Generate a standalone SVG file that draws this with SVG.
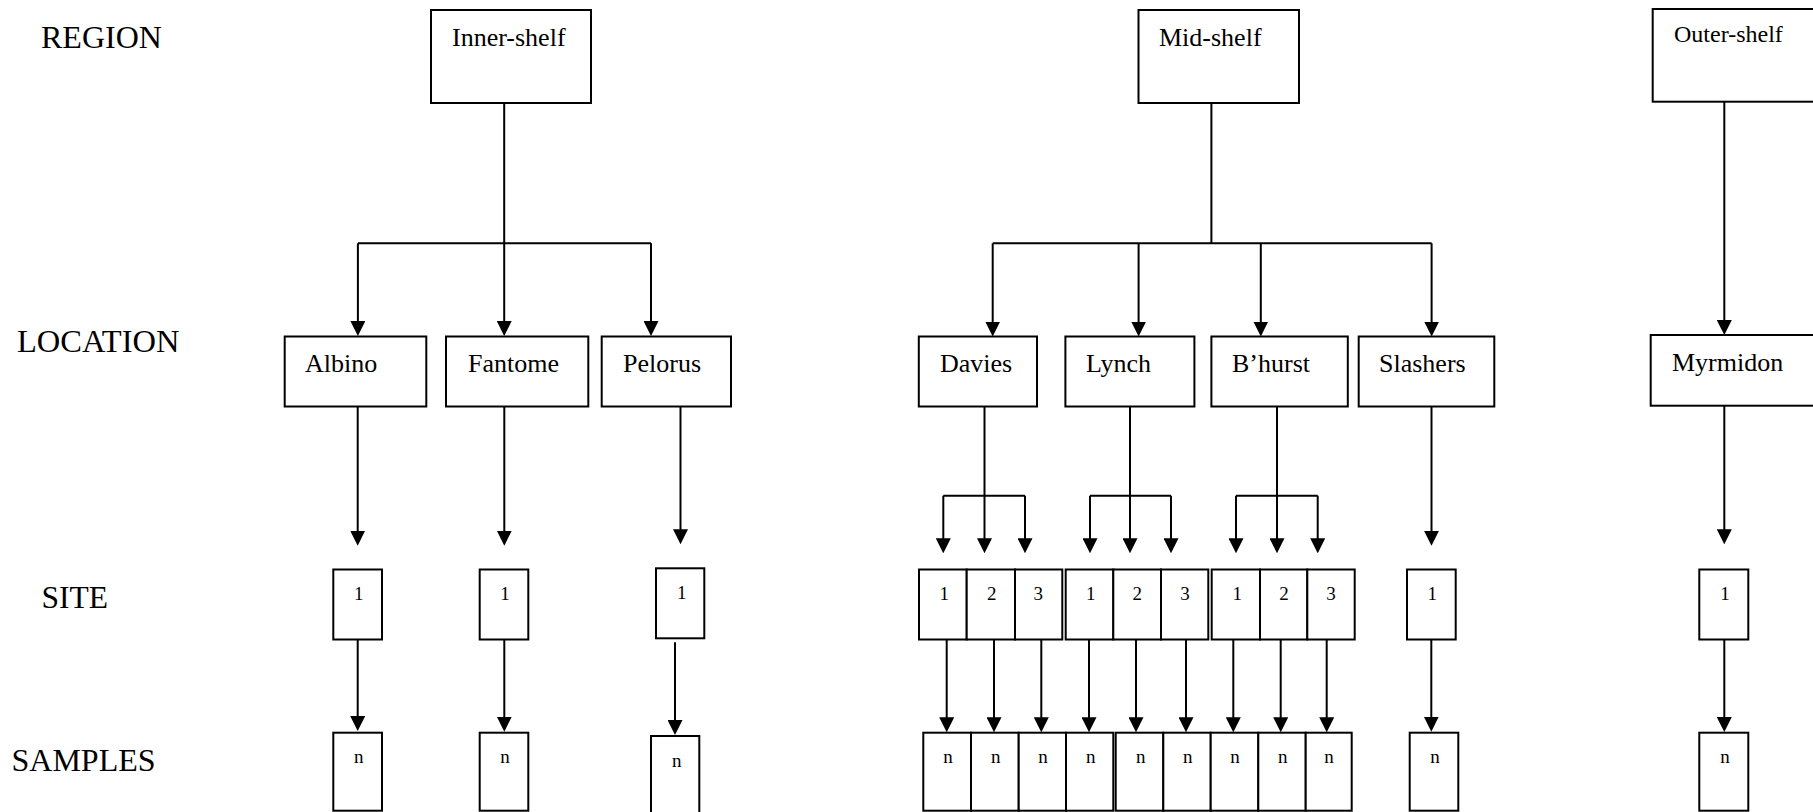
<svg xmlns="http://www.w3.org/2000/svg" width="1813" height="812" viewBox="0 0 1813 812">
<style>
.b{fill:#fff;stroke:#000;stroke-width:2}
.c{fill:none;stroke:#000;stroke-width:2}
.a{marker-end:url(#ah)}
text{font-family:"Liberation Serif","Times New Roman",serif;fill:#000}
.lv{font-size:31px}
.t{font-size:26px}
.s{font-size:19px;text-anchor:middle}
</style>
<defs>
<marker id="ah" viewBox="0 0 15 15" refX="5" refY="7.5" markerWidth="15" markerHeight="15" markerUnits="userSpaceOnUse" orient="auto">
<path d="M0,0 L15,7.5 L0,15 z" fill="#000"/>
</marker>
</defs>
<rect width="1813" height="812" fill="#fff"/>

<g id="levels">
<text class="lv" x="41" y="48" style="font-size:32px">REGION</text>
<text class="lv" x="17" y="352" style="font-size:32.5px">LOCATION</text>
<text class="lv" x="41.5" y="608" style="font-size:31.5px">SITE</text>
<text class="lv" x="11.5" y="771" style="font-size:32px">SAMPLES</text>
</g>

<g id="connectors">
<!-- Inner-shelf -->
<path class="c" d="M504.2,103 V243.3 M357.9,243.3 H651"/>
<path class="c a" d="M357.9,243.3 V326"/>
<path class="c a" d="M504.2,243.3 V326"/>
<path class="c a" d="M651,243.3 V326"/>
<!-- Mid-shelf -->
<path class="c" d="M1211.4,103 V243.3 M992.7,243.3 H1431.6"/>
<path class="c a" d="M992.7,243.3 V326.5"/>
<path class="c a" d="M1138.6,243.3 V326.5"/>
<path class="c a" d="M1260.8,243.3 V326.5"/>
<path class="c a" d="M1431.6,243.3 V326.5"/>
<!-- Outer-shelf -->
<path class="c a" d="M1724.3,101.7 V325"/>
<!-- Location to site -->
<path class="c a" d="M357.7,406.5 V535.7"/>
<path class="c a" d="M504.3,406.5 V535.7"/>
<path class="c a" d="M680.5,404 V534.3"/>
<path class="c a" d="M1431.5,406.5 V535.7"/>
<path class="c a" d="M1724.3,405.7 V534.3"/>
<path class="c" d="M984.5,406.5 V495.7 M943.3,495.7 H1025"/>
<path class="c a" d="M943.3,495.7 V543.3"/>
<path class="c a" d="M984.5,495.7 V543.3"/>
<path class="c a" d="M1025,495.7 V543.3"/>
<path class="c" d="M1130,406.5 V495.7 M1090,495.7 H1171"/>
<path class="c a" d="M1090,495.7 V543.3"/>
<path class="c a" d="M1130,495.7 V543.3"/>
<path class="c a" d="M1171,495.7 V543.3"/>
<path class="c" d="M1277,406.5 V495.7 M1236,495.7 H1317.7"/>
<path class="c a" d="M1236,495.7 V543.3"/>
<path class="c a" d="M1277,495.7 V543.3"/>
<path class="c a" d="M1317.7,495.7 V543.3"/>
<!-- Site to samples -->
<path class="c a" d="M357.7,639.5 V721"/>
<path class="c a" d="M504.3,639.5 V721.7"/>
<path class="c a" d="M675,642.3 V725"/>
<path class="c a" d="M946.7,639.5 V722.3"/>
<path class="c a" d="M994,639.5 V722.3"/>
<path class="c a" d="M1041.3,639.5 V722.3"/>
<path class="c a" d="M1089,639.5 V722.3"/>
<path class="c a" d="M1136,639.5 V722.3"/>
<path class="c a" d="M1186,639.5 V722.3"/>
<path class="c a" d="M1233.3,639.5 V722.3"/>
<path class="c a" d="M1280.7,639.5 V722.3"/>
<path class="c a" d="M1326.7,639.5 V722.3"/>
<path class="c a" d="M1431.3,639.5 V721.7"/>
<path class="c a" d="M1724.3,639.5 V722"/>
</g>

<g id="region-inner">
<rect class="b" x="431" y="10" width="160" height="93"/>
<text class="t" x="452" y="46">Inner-shelf</text>
</g>
<g id="region-mid">
<rect class="b" x="1138.5" y="10" width="160.5" height="93"/>
<text class="t" x="1159" y="46">Mid-shelf</text>
</g>
<g id="region-outer">
<rect class="b" x="1652.7" y="9" width="200" height="92.7"/>
<text x="1674" y="42" style="font-size:24px">Outer-shelf</text>
</g>

<g id="loc-albino"><rect class="b" x="284.7" y="336.5" width="141.6" height="70"/><text class="t" x="305" y="372">Albino</text></g>
<g id="loc-fantome"><rect class="b" x="446" y="336.5" width="142.3" height="70"/><text class="t" x="468" y="372">Fantome</text></g>
<g id="loc-pelorus"><rect class="b" x="601.7" y="336.5" width="129.3" height="70"/><text class="t" x="623" y="372">Pelorus</text></g>
<g id="loc-davies"><rect class="b" x="918.8" y="336.5" width="118.2" height="70"/><text class="t" x="940" y="372">Davies</text></g>
<g id="loc-lynch"><rect class="b" x="1065.4" y="336.5" width="129" height="70"/><text class="t" x="1086" y="372">Lynch</text></g>
<g id="loc-bhurst"><rect class="b" x="1211.4" y="336.5" width="136.4" height="70"/><text class="t" x="1232" y="372">B’hurst</text></g>
<g id="loc-slashers"><rect class="b" x="1358.7" y="336.5" width="135.6" height="70"/><text class="t" x="1379" y="372">Slashers</text></g>
<g id="loc-myrmidon"><rect class="b" x="1650.7" y="335" width="200" height="70.7"/><text class="t" x="1672" y="371">Myrmidon</text></g>

<g id="site-albino"><rect class="b" x="333.3" y="569.5" width="48.7" height="70"/><text class="s" x="358.7" y="600">1</text></g>
<g id="site-fantome"><rect class="b" x="479.7" y="569.5" width="48.6" height="70"/><text class="s" x="505" y="600">1</text></g>
<g id="site-pelorus"><rect class="b" x="656" y="568.3" width="48.3" height="70"/><text class="s" x="681.7" y="599">1</text></g>
<g id="site-davies">
<rect class="b" x="919" y="569.5" width="47.7" height="70"/><text class="s" x="944.3" y="600">1</text>
<rect class="b" x="966.7" y="569.5" width="48.3" height="70"/><text class="s" x="991.7" y="600">2</text>
<rect class="b" x="1015" y="569.5" width="47.3" height="70"/><text class="s" x="1038.3" y="600">3</text>
</g>
<g id="site-lynch">
<rect class="b" x="1065.7" y="569.5" width="47.6" height="70"/><text class="s" x="1090.7" y="600">1</text>
<rect class="b" x="1113.3" y="569.5" width="47.7" height="70"/><text class="s" x="1137.3" y="600">2</text>
<rect class="b" x="1161" y="569.5" width="47.3" height="70"/><text class="s" x="1185" y="600">3</text>
</g>
<g id="site-bhurst">
<rect class="b" x="1211.7" y="569.5" width="48.3" height="70"/><text class="s" x="1237.3" y="600">1</text>
<rect class="b" x="1260" y="569.5" width="47.3" height="70"/><text class="s" x="1284" y="600">2</text>
<rect class="b" x="1307.3" y="569.5" width="47.4" height="70"/><text class="s" x="1331" y="600">3</text>
</g>
<g id="site-slashers"><rect class="b" x="1407" y="569.5" width="48.7" height="70"/><text class="s" x="1432.3" y="600">1</text></g>
<g id="site-myrmidon"><rect class="b" x="1699.3" y="569.5" width="49" height="70"/><text class="s" x="1725" y="600">1</text></g>

<g id="samp-albino"><rect class="b" x="333.3" y="732.7" width="48.7" height="78"/><text class="s" x="358.7" y="763">n</text></g>
<g id="samp-fantome"><rect class="b" x="479.7" y="732.7" width="48.6" height="78"/><text class="s" x="505" y="763">n</text></g>
<g id="samp-pelorus"><rect class="b" x="651" y="736" width="48.3" height="80"/><text class="s" x="676.7" y="766.7">n</text></g>
<g id="samp-mid-a">
<rect class="b" x="923.3" y="732.7" width="47.7" height="78"/><text class="s" x="948" y="763">n</text>
<rect class="b" x="971" y="732.7" width="47.7" height="78"/><text class="s" x="995.7" y="763">n</text>
<rect class="b" x="1018.7" y="732.7" width="47.3" height="78"/><text class="s" x="1043" y="763">n</text>
<rect class="b" x="1066" y="732.7" width="47.3" height="78"/><text class="s" x="1090.7" y="763">n</text>
</g>
<g id="samp-mid-b">
<rect class="b" x="1115.7" y="732.7" width="47.6" height="78"/><text class="s" x="1140.7" y="763">n</text>
<rect class="b" x="1163.3" y="732.7" width="47.4" height="78"/><text class="s" x="1187.7" y="763">n</text>
<rect class="b" x="1210.7" y="732.7" width="47.6" height="78"/><text class="s" x="1235" y="763">n</text>
<rect class="b" x="1258.3" y="732.7" width="47.4" height="78"/><text class="s" x="1282.7" y="763">n</text>
<rect class="b" x="1305.7" y="732.7" width="46" height="78"/><text class="s" x="1329" y="763">n</text>
</g>
<g id="samp-slashers"><rect class="b" x="1409.7" y="732.7" width="48.6" height="78"/><text class="s" x="1435" y="763">n</text></g>
<g id="samp-myrmidon"><rect class="b" x="1699.3" y="732.7" width="49" height="78"/><text class="s" x="1725" y="763">n</text></g>
</svg>
